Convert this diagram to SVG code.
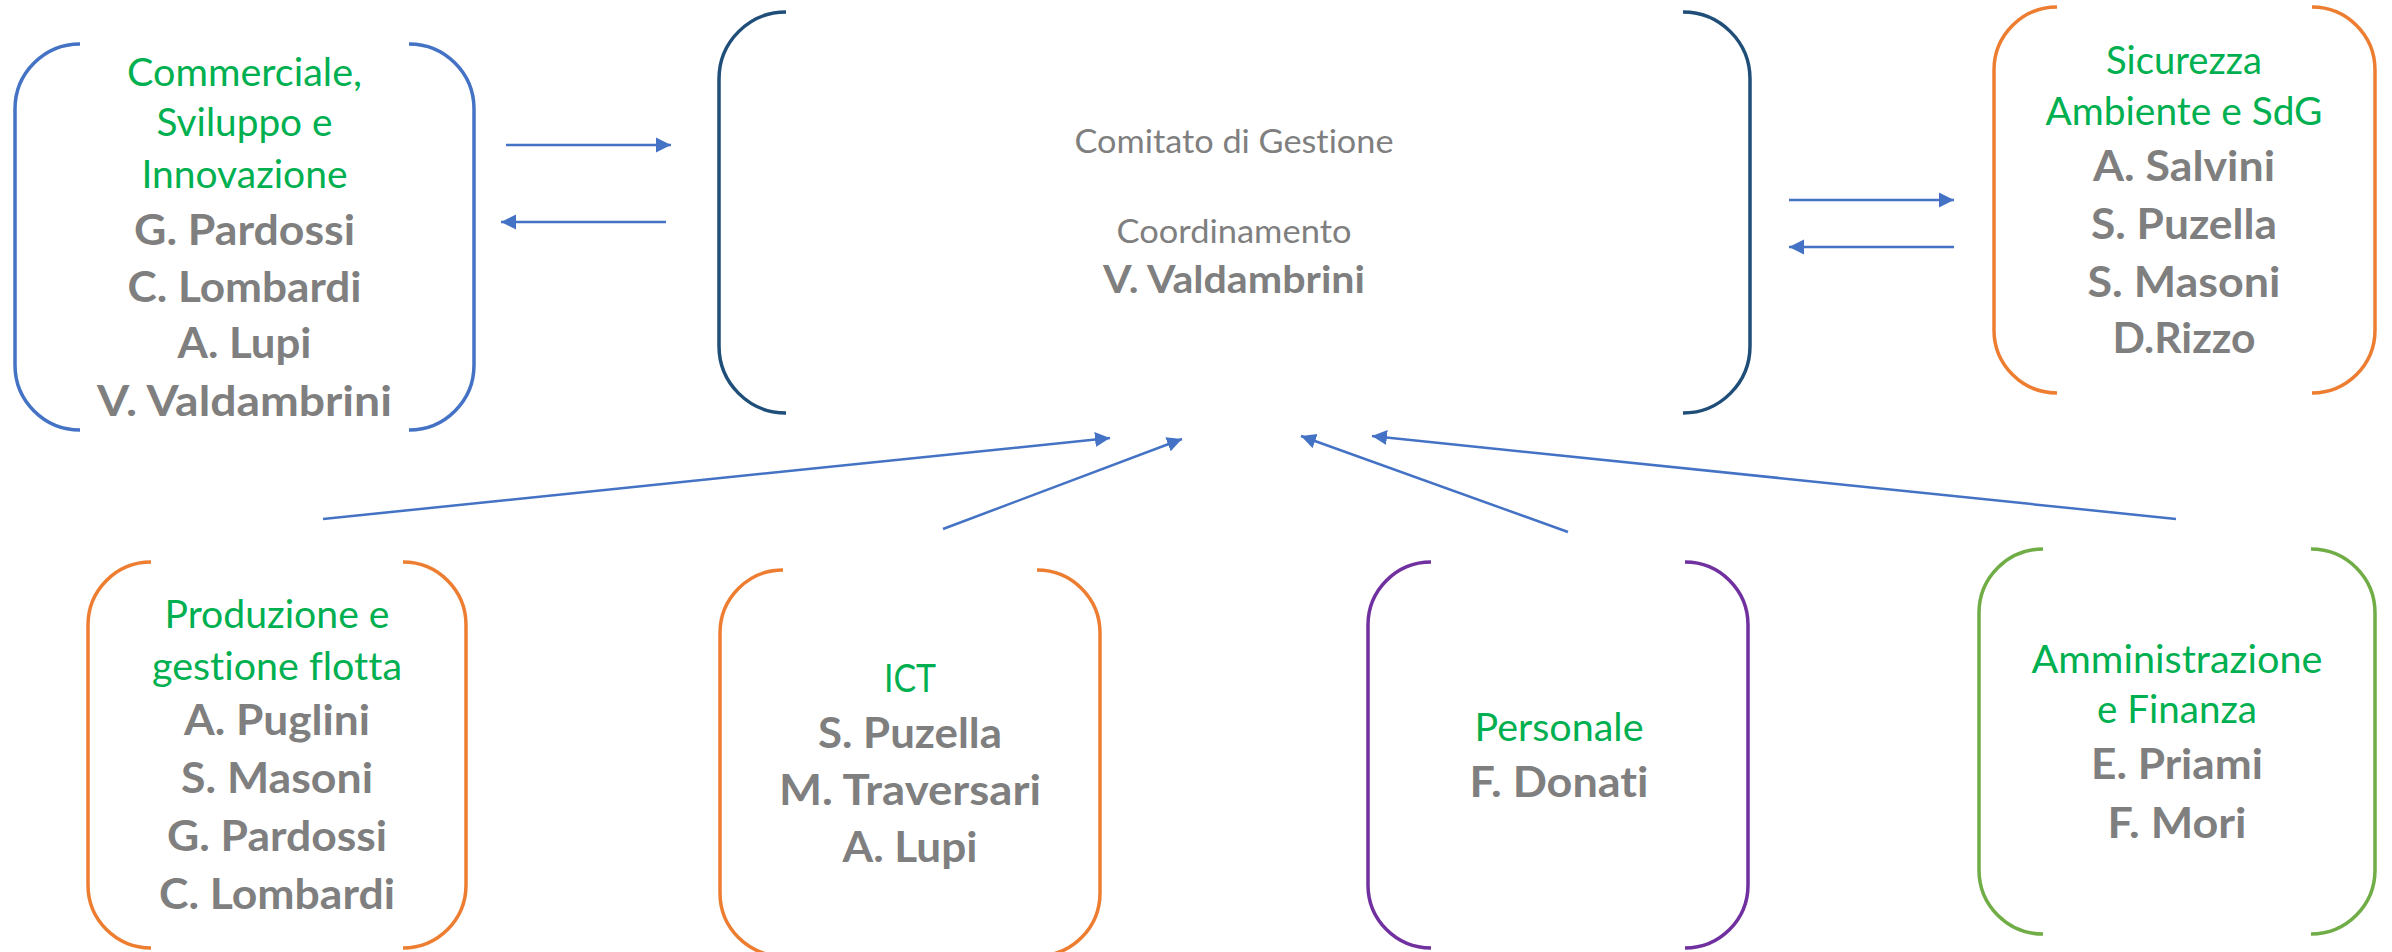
<svg xmlns="http://www.w3.org/2000/svg" width="2392" height="952" viewBox="0 0 2392 952">
<defs>
<style>
.br{fill:none;stroke-width:3.5}
.blue{stroke:#4472C4}
.dblue{stroke:#1F4E79}
.orange{stroke:#ED7D31}
.purple{stroke:#7030A0}
.green{stroke:#70AD47}
text{font-family:Lato,'Noto Sans','Liberation Sans',sans-serif;text-anchor:middle;font-variant-ligatures:none}
.g{fill:#00B050;font-size:38px;font-weight:400}
.n{fill:#7F7F7F;font-size:42px;font-weight:700}
.c{fill:#7F7F7F;font-size:32px;font-weight:400}
.cn{fill:#7F7F7F;font-size:38px;font-weight:700}
.conn{stroke:#4472C4;stroke-width:2.5;fill:none}
</style>
<marker id="ah" markerUnits="userSpaceOnUse" markerWidth="16" markerHeight="16" viewBox="0 0 16 16" refX="15" refY="8" orient="auto"><path d="M0,0.5 L15,8 L0,15.5 z" fill="#4472C4"/></marker>
</defs>
<rect width="2392" height="952" fill="#FFFFFF"/>

<g id="connectors">
<path class="conn" d="M506,145 L671,145" marker-end="url(#ah)"/>
<path class="conn" d="M666,222 L501,222" marker-end="url(#ah)"/>
<path class="conn" d="M1789,200 L1954,200" marker-end="url(#ah)"/>
<path class="conn" d="M1954,247 L1789,247" marker-end="url(#ah)"/>
<path class="conn" d="M323,519 L1110,438" marker-end="url(#ah)"/>
<path class="conn" d="M943,529 L1182,439" marker-end="url(#ah)"/>
<path class="conn" d="M1568,532 L1301,436" marker-end="url(#ah)"/>
<path class="conn" d="M2176,519 L1372,436" marker-end="url(#ah)"/>
</g>

<g id="commerciale">
<path class="br blue" d="M80,44 A65,65 0 0 0 15,109 L15,365 A65,65 0 0 0 80,430"/>
<path class="br blue" d="M409,44 A65,65 0 0 1 474,109 L474,365 A65,65 0 0 1 409,430"/>
<text class="g" x="244.5" y="86" textLength="235" lengthAdjust="spacingAndGlyphs">Commerciale,</text>
<text class="g" x="244.5" y="136" textLength="176" lengthAdjust="spacingAndGlyphs">Sviluppo e</text>
<text class="g" x="244.5" y="188" textLength="206" lengthAdjust="spacingAndGlyphs">Innovazione</text>
<text class="n" x="244.5" y="245" textLength="221" lengthAdjust="spacingAndGlyphs">G. Pardossi</text>
<text class="n" x="244.5" y="302" textLength="234" lengthAdjust="spacingAndGlyphs">C. Lombardi</text>
<text class="n" x="244.5" y="358" textLength="134" lengthAdjust="spacingAndGlyphs">A. Lupi</text>
<text class="n" x="244.5" y="416" textLength="295" lengthAdjust="spacingAndGlyphs">V. Valdambrini</text>
</g>

<g id="comitato">
<path class="br dblue" d="M786,12 A67,67 0 0 0 719,79 L719,346 A67,67 0 0 0 786,413"/>
<path class="br dblue" d="M1683,12 A67,67 0 0 1 1750,79 L1750,346 A67,67 0 0 1 1683,413"/>
<text class="c" x="1234" y="153" textLength="319" lengthAdjust="spacingAndGlyphs">Comitato di Gestione</text>
<text class="c" x="1234" y="243" textLength="235" lengthAdjust="spacingAndGlyphs">Coordinamento</text>
<text class="cn" x="1234" y="293" textLength="262" lengthAdjust="spacingAndGlyphs">V. Valdambrini</text>
</g>

<g id="sicurezza">
<path class="br orange" d="M2057,7 A63,63 0 0 0 1994,70 L1994,330 A63,63 0 0 0 2057,393"/>
<path class="br orange" d="M2312,7 A63,63 0 0 1 2375,70 L2375,330 A63,63 0 0 1 2312,393"/>
<text class="g" x="2184" y="74" textLength="156" lengthAdjust="spacingAndGlyphs">Sicurezza</text>
<text class="g" x="2184" y="125" textLength="277" lengthAdjust="spacingAndGlyphs">Ambiente e SdG</text>
<text class="n" x="2184" y="181" textLength="182" lengthAdjust="spacingAndGlyphs">A. Salvini</text>
<text class="n" x="2184" y="239" textLength="186" lengthAdjust="spacingAndGlyphs">S. Puzella</text>
<text class="n" x="2184" y="297" textLength="193" lengthAdjust="spacingAndGlyphs">S. Masoni</text>
<text class="n" x="2184" y="353" textLength="143" lengthAdjust="spacingAndGlyphs">D.Rizzo</text>
</g>

<g id="produzione">
<path class="br orange" d="M151,562 A63,63 0 0 0 88,625 L88,885 A63,63 0 0 0 151,948"/>
<path class="br orange" d="M403,562 A63,63 0 0 1 466,625 L466,885 A63,63 0 0 1 403,948"/>
<text class="g" x="277" y="628" textLength="225" lengthAdjust="spacingAndGlyphs">Produzione e</text>
<text class="g" x="277" y="680" textLength="250" lengthAdjust="spacingAndGlyphs">gestione flotta</text>
<text class="n" x="277" y="735" textLength="186" lengthAdjust="spacingAndGlyphs">A. Puglini</text>
<text class="n" x="277" y="793" textLength="192" lengthAdjust="spacingAndGlyphs">S. Masoni</text>
<text class="n" x="277" y="851" textLength="220" lengthAdjust="spacingAndGlyphs">G. Pardossi</text>
<text class="n" x="277" y="909" textLength="236" lengthAdjust="spacingAndGlyphs">C. Lombardi</text>
</g>

<g id="ict">
<path class="br orange" d="M783,570 A63,63 0 0 0 720,633 L720,893 A63,63 0 0 0 783,956"/>
<path class="br orange" d="M1037,570 A63,63 0 0 1 1100,633 L1100,893 A63,63 0 0 1 1037,956"/>
<text class="g" x="910" y="692" textLength="52" lengthAdjust="spacingAndGlyphs">ICT</text>
<text class="n" x="910" y="748" textLength="184" lengthAdjust="spacingAndGlyphs">S. Puzella</text>
<text class="n" x="910" y="805" textLength="262" lengthAdjust="spacingAndGlyphs">M. Traversari</text>
<text class="n" x="910" y="862" textLength="135" lengthAdjust="spacingAndGlyphs">A. Lupi</text>
</g>

<g id="personale">
<path class="br purple" d="M1431,562 A63,63 0 0 0 1368,625 L1368,885 A63,63 0 0 0 1431,948"/>
<path class="br purple" d="M1685,562 A63,63 0 0 1 1748,625 L1748,885 A63,63 0 0 1 1685,948"/>
<text class="g" x="1559" y="741" textLength="169" lengthAdjust="spacingAndGlyphs">Personale</text>
<text class="n" x="1559" y="797" textLength="179" lengthAdjust="spacingAndGlyphs">F. Donati</text>
</g>

<g id="amministrazione">
<path class="br green" d="M2043,549 A64,64 0 0 0 1979,613 L1979,870 A64,64 0 0 0 2043,934"/>
<path class="br green" d="M2311,549 A64,64 0 0 1 2375,613 L2375,870 A64,64 0 0 1 2311,934"/>
<text class="g" x="2177" y="673" textLength="291" lengthAdjust="spacingAndGlyphs">Amministrazione</text>
<text class="g" x="2177" y="723" textLength="160" lengthAdjust="spacingAndGlyphs">e Finanza</text>
<text class="n" x="2177" y="779" textLength="172" lengthAdjust="spacingAndGlyphs">E. Priami</text>
<text class="n" x="2177" y="838" textLength="139" lengthAdjust="spacingAndGlyphs">F. Mori</text>
</g>
</svg>
